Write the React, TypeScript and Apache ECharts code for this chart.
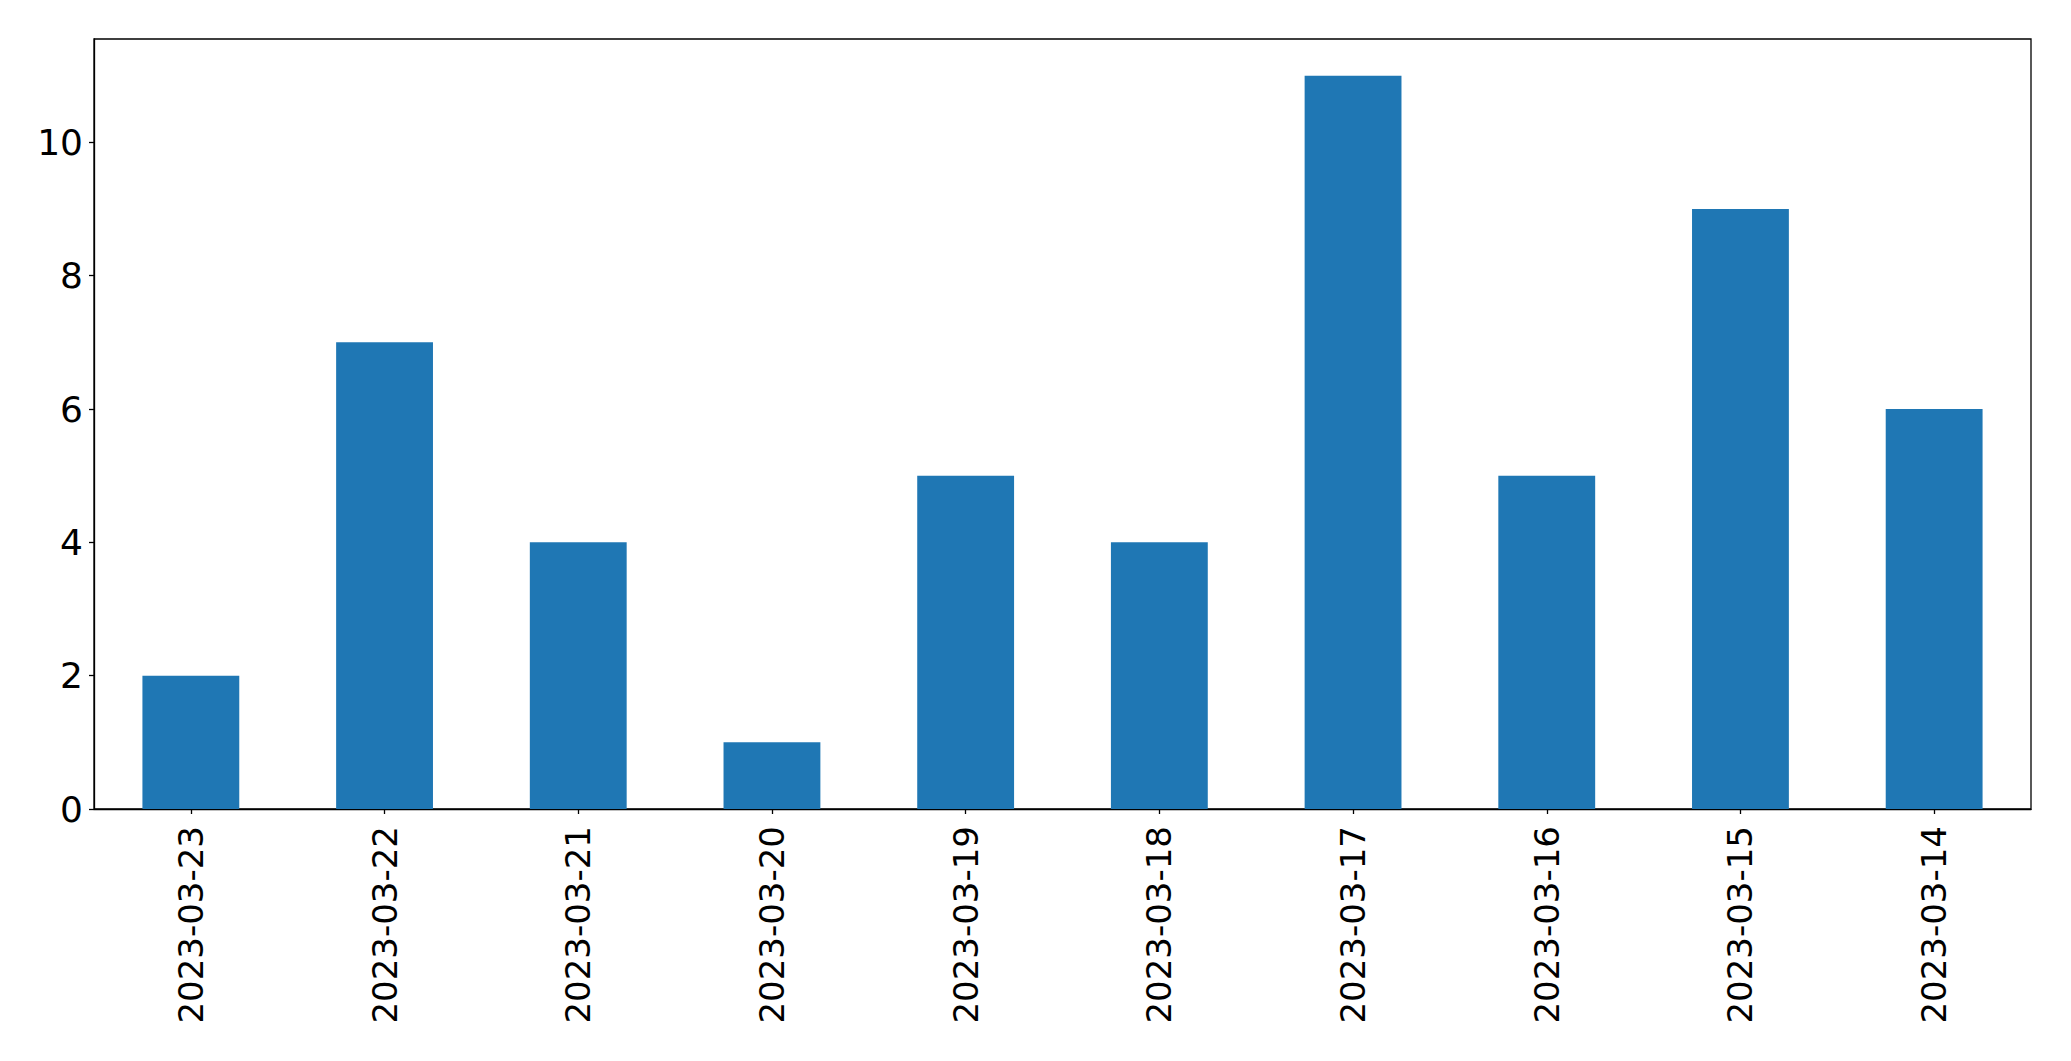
import React, { useEffect, useRef } from "react";
import * as echarts from "echarts";

const categories = [
  "2023-03-23",
  "2023-03-22",
  "2023-03-21",
  "2023-03-20",
  "2023-03-19",
  "2023-03-18",
  "2023-03-17",
  "2023-03-16",
  "2023-03-15",
  "2023-03-14",
];
const values = [2, 7, 4, 1, 5, 4, 11, 5, 9, 6];
const yMax = 11.55;
const yInterval = 2;

export default function App() {
  const ref = useRef<HTMLDivElement>(null);
  useEffect(() => {
    if (!ref.current) return;
    const chart = echarts.init(ref.current, undefined, { renderer: "svg" });
    const font = "DejaVu Sans";
    chart.setOption({
      animation: false,
      backgroundColor: "#ffffff",
      grid: {
        left: 94,
        top: 39,
        width: 1937,
        height: 770,
        show: true,
        borderColor: "#000000",
        borderWidth: 1.3,
        backgroundColor: "transparent",
      },
      xAxis: {
        type: "category",
        data: categories,
        boundaryGap: true,
        axisLine: { show: true, lineStyle: { color: "#000", width: 1.3 } },
        axisTick: {
          show: true,
          alignWithLabel: true,
          length: 5,
          lineStyle: { color: "#000", width: 1.3 },
        },
        axisLabel: {
          rotate: 90,
          margin: 17,
          color: "#000",
          fontSize: 34,
          fontFamily: font,
          interval: 0,
        },
        splitLine: { show: false },
      },
      yAxis: {
        type: "value",
        min: 0,
        max: yMax,
        interval: yInterval,
        axisLine: { show: true, lineStyle: { color: "#000", width: 1.3 } },
        axisTick: { show: true, length: 5, lineStyle: { color: "#000", width: 1.3 } },
        axisLabel: {
          margin: 11,
          color: "#000",
          fontSize: 36,
          fontFamily: font,
          showMaxLabel: false,
        },
        splitLine: { show: false },
      },
      series: [
        {
          type: "bar",
          data: values,
          barWidth: "50%",
          itemStyle: { color: "#1f77b4" },
        },
      ],
    });
    return () => chart.dispose();
  }, []);
  return (
    <div
      ref={ref}
      style={{ position: "fixed", left: 0, top: 0, width: 2071, height: 1061 }}
    />
  );
}
